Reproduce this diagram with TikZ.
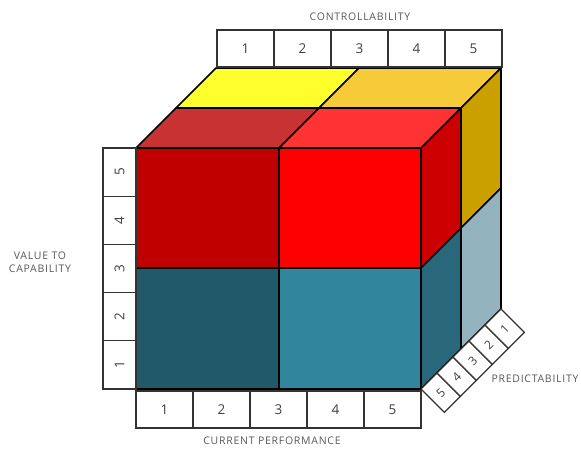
\documentclass[tikz,border=0pt]{standalone}
\usepackage{fontspec}
\setmainfont{Open Sans}
\newfontfamily\labelfont[LetterSpace=7]{Open Sans}
\usetikzlibrary{calc}
\definecolor{cYellow}{HTML}{FFFF2E}
\definecolor{cOrange}{HTML}{F6CB3A}
\definecolor{cTopDR}{HTML}{C83232}
\definecolor{cTopR}{HTML}{FF3333}
\definecolor{cFrontDR}{HTML}{C00000}
\definecolor{cFrontR}{HTML}{FF0000}
\definecolor{cSideR}{HTML}{CC0000}
\definecolor{cSideGold}{HTML}{C9A000}
\definecolor{cFrontDT}{HTML}{215968}
\definecolor{cFrontT}{HTML}{31859C}
\definecolor{cSideT}{HTML}{28687A}
\definecolor{cSideL}{HTML}{93B3BF}
\begin{document}
\begin{tikzpicture}[x=1pt,y=-1pt,
  face/.style={draw=black, line width=1.6pt, line join=round},
  cell/.style={draw=black!80, line width=1.1pt, fill=white, inner sep=0pt,
    font=\fontsize{13.5}{13.5}\selectfont, text=black!75},
  axislabel/.style={font=\labelfont\fontsize{10.5}{13}\selectfont, text=black!65, align=center}]
\useasboundingbox (0,0) rectangle (581,448);
% top face
\path[face, fill=cYellow] (176,108) -- (216,68) -- (359,68) -- (319,108) -- cycle;
\path[face, fill=cOrange] (319,108) -- (359,68) -- (501,68) -- (461,108) -- cycle;
\path[face, fill=cTopDR] (136,148) -- (176,108) -- (319,108) -- (279,148) -- cycle;
\path[face, fill=cTopR] (279,148) -- (319,108) -- (461,108) -- (421,148) -- cycle;
% right face
\path[face, fill=cSideR] (421,148) -- (461,108) -- (461,228) -- (421,268) -- cycle;
\path[face, fill=cSideGold] (461,108) -- (501,68) -- (501,188) -- (461,228) -- cycle;
\path[face, fill=cSideT] (421,268) -- (461,228) -- (461,349) -- (421,389) -- cycle;
\path[face, fill=cSideL] (461,228) -- (501,188) -- (501,309) -- (461,349) -- cycle;
% front face
\path[face, fill=cFrontDR] (136,148) rectangle (279,268);
\path[face, fill=cFrontR] (279,148) rectangle (421,268);
\path[face, fill=cFrontDT] (136,268) rectangle (279,389);
\path[face, fill=cFrontT] (279,268) rectangle (421,389);
\draw[line width=2.2pt, line join=round] (136,148) rectangle (421,389);
% top scale
\foreach \i in {1,...,5}
  \node[cell, minimum width=57pt, minimum height=37pt] (top\i) at ({217+57*(\i-0.5)},48.5) {\i};
% left scale
\foreach \i in {1,...,5}
  \node[cell, rotate=90, minimum width=48.2pt, minimum height=33pt] (left\i) at (119.5,{389-48.2*(\i-0.5)}) {\i};
% bottom scale
\foreach \i in {1,...,5}
  \node[cell, minimum width=57pt, minimum height=37pt] (bot\i) at ({136+57*(\i-0.5)},409.5) {\i};
% diagonal scale
\foreach \i/\lab in {1/5,2/4,3/3,4/2,5/1}
  \node[cell, rotate=45, minimum width=22.6pt, minimum height=33pt, font=\fontsize{12}{12}\selectfont] (diag\lab) at ({421+16*(\i-0.5)+11.7},{389-16*(\i-0.5)+11.7}) {\lab};
% axis labels
\node[axislabel] (lctrl) at (360,17) {CONTROLLABILITY};
\node[axislabel] (lval) at (40,262) {VALUE TO\\CAPABILITY};
\node[axislabel] (lcur) at (272,441) {CURRENT PERFORMANCE};
\node[axislabel] (lpred) at (535,379) {PREDICTABILITY};
\end{tikzpicture}
\end{document}
